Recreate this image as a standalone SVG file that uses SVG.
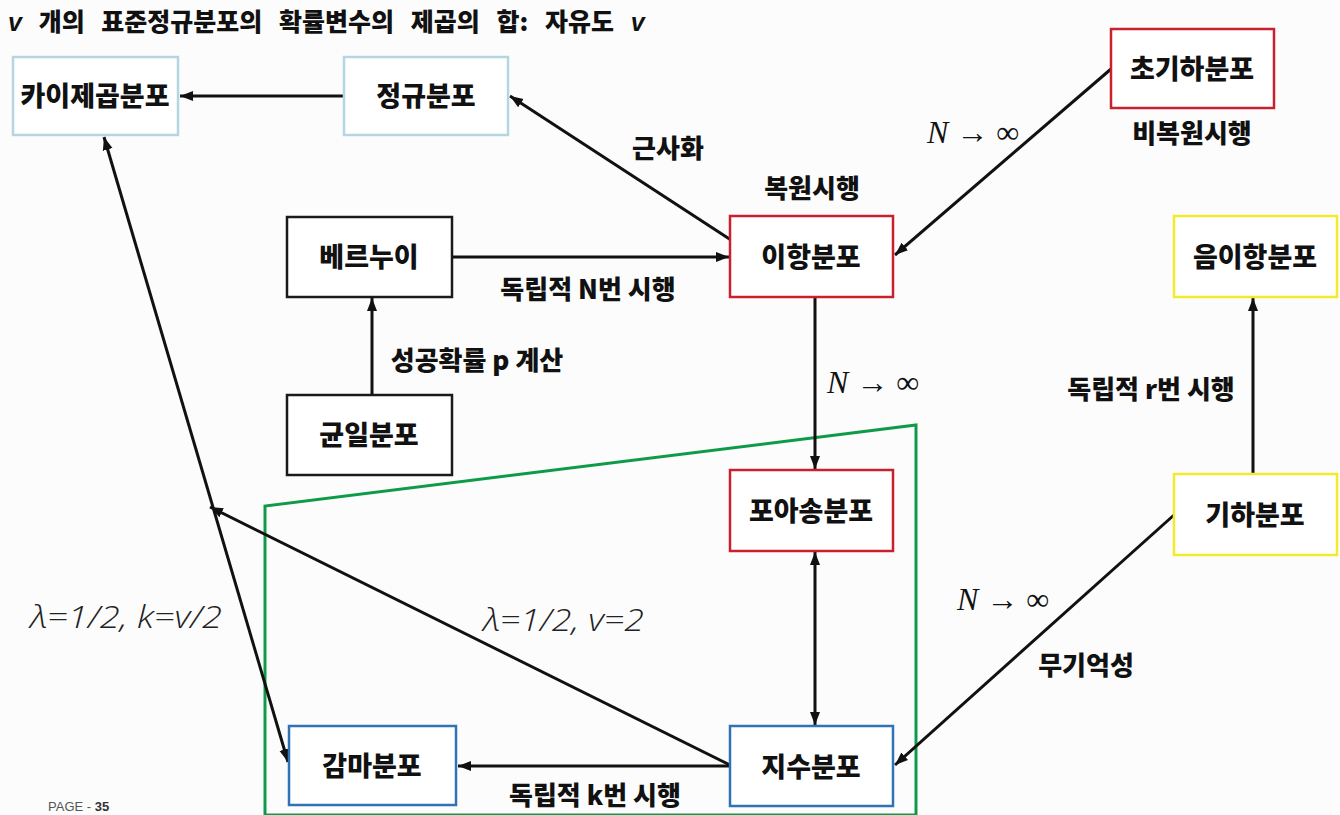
<svg xmlns="http://www.w3.org/2000/svg" width="1340" height="815" viewBox="0 0 1340 815">
<style>
.box{fill:#fff;stroke-width:2.5}
.lb{stroke:#b5d6e0}
.rd{stroke:#c8202c}
.bk{stroke:#1a1a1a}
.yl{stroke:#f2ea2a}
.bl{stroke:#2f72b5}
.nt{font-family:"Noto Sans CJK KR",sans-serif;font-weight:900;font-size:27px;fill:#111;text-anchor:middle}
.el{font-family:"Noto Sans CJK KR",sans-serif;font-weight:900;font-size:26px;fill:#111;text-anchor:middle}
.math{font-family:"Liberation Serif","DejaVu Serif",serif;font-size:32px;fill:#111;text-anchor:middle}
.lam{font-family:"Open Sans",sans-serif;font-style:italic;font-weight:300;font-size:31px;fill:#222}
.cn line{stroke:#111;stroke-width:3;fill:none}
</style>
<defs>
<marker id="ah" markerUnits="userSpaceOnUse" markerWidth="14" markerHeight="12" refX="13" refY="5" orient="auto-start-reverse" viewBox="0 0 14 10">
<path d="M0,0 L13,5 L0,10 z" fill="#111"/>
</marker>
</defs>
<rect width="1340" height="815" fill="#fcfcfc"/>
<text x="8" y="31" font-family="Noto Sans CJK KR,sans-serif" font-weight="900" font-size="25" fill="#111" word-spacing="11"><tspan font-family="Liberation Sans,sans-serif" font-style="italic">v</tspan> 개의 표준정규분포의 확률변수의 제곱의 합: 자유도 <tspan font-family="Liberation Sans,sans-serif" font-style="italic">v</tspan></text>
<polygon points="265,815 265,506 916,425 916,815" fill="none" stroke="#0f9a4a" stroke-width="3"/>
<g class="cn">
<line x1="344" y1="96" x2="180" y2="96" marker-end="url(#ah)"/>
<line x1="731" y1="240" x2="510" y2="96" marker-end="url(#ah)"/>
<line x1="452" y1="257" x2="729" y2="257" marker-end="url(#ah)"/>
<line x1="372" y1="395" x2="372" y2="298" marker-end="url(#ah)"/>
<line x1="1111" y1="69" x2="895" y2="255" marker-end="url(#ah)"/>
<line x1="815" y1="297" x2="815" y2="469" marker-end="url(#ah)"/>
<line x1="815" y1="552" x2="815" y2="725" marker-start="url(#ah)" marker-end="url(#ah)"/>
<line x1="1253" y1="474" x2="1253" y2="298" marker-end="url(#ah)"/>
<line x1="1174" y1="515" x2="895" y2="765" marker-end="url(#ah)"/>
<line x1="730" y1="766" x2="458" y2="766" marker-end="url(#ah)"/>
<line x1="104" y1="137" x2="288" y2="762" marker-start="url(#ah)" marker-end="url(#ah)"/>
<line x1="730" y1="765" x2="210" y2="507" marker-end="url(#ah)"/>
</g>
<g id="chi"><rect class="box lb" x="13" y="57" width="165" height="78"/><text class="nt" x="95" y="106">카이제곱분포</text></g>
<g id="normal"><rect class="box lb" x="344" y="57" width="164" height="78"/><text class="nt" x="426" y="106">정규분포</text></g>
<g id="hyper"><rect class="box rd" x="1111" y="29" width="163" height="79"/><text class="nt" x="1192" y="79">초기하분포</text></g>
<g id="binom"><rect class="box rd" x="730" y="216" width="163" height="81"/><text class="nt" x="811" y="267">이항분포</text></g>
<g id="bern"><rect class="box bk" x="287" y="217" width="165" height="80"/><text class="nt" x="369" y="267">베르누이</text></g>
<g id="unif"><rect class="box bk" x="287" y="395" width="165" height="80"/><text class="nt" x="369" y="445">균일분포</text></g>
<g id="negbin"><rect class="box yl" x="1174" y="216" width="163" height="81"/><text class="nt" x="1255" y="267">음이항분포</text></g>
<g id="poisson"><rect class="box rd" x="730" y="470" width="163" height="81"/><text class="nt" x="811" y="521">포아송분포</text></g>
<g id="geom"><rect class="box yl" x="1174" y="474" width="163" height="81"/><text class="nt" x="1255" y="525">기하분포</text></g>
<g id="gamma"><rect class="box bl" x="289" y="726" width="167" height="79"/><text class="nt" x="372" y="776">감마분포</text></g>
<g id="expo"><rect class="box bl" x="730" y="726" width="163" height="80"/><text class="nt" x="811" y="777">지수분포</text></g>
<g id="labels">
<text class="el" x="668" y="158">근사화</text>
<text class="el" x="812" y="198">복원시행</text>
<text class="math" x="973" y="143"><tspan font-style="italic">N</tspan> → ∞</text>
<text class="el" x="1192" y="143">비복원시행</text>
<text class="el" x="588" y="299">독립적 N번 시행</text>
<text class="el" x="477" y="370">성공확률 p 계산</text>
<text class="math" x="873" y="393"><tspan font-style="italic">N</tspan> → ∞</text>
<text class="el" x="1151" y="399">독립적 r번 시행</text>
<text class="lam" x="30" y="628" textLength="192" lengthAdjust="spacingAndGlyphs">λ=1/2, k=v/2</text>
<text class="lam" x="483" y="631" textLength="161" lengthAdjust="spacingAndGlyphs">λ=1/2, v=2</text>
<text class="math" x="1003" y="610"><tspan font-style="italic">N</tspan> → ∞</text>
<text class="el" x="1086" y="675">무기억성</text>
<text class="el" x="595" y="805">독립적 k번 시행</text>
<text x="48" y="811" font-family="Liberation Sans,sans-serif" font-size="13" fill="#555">PAGE - <tspan font-weight="bold" fill="#333">35</tspan></text>
</g>
</svg>
